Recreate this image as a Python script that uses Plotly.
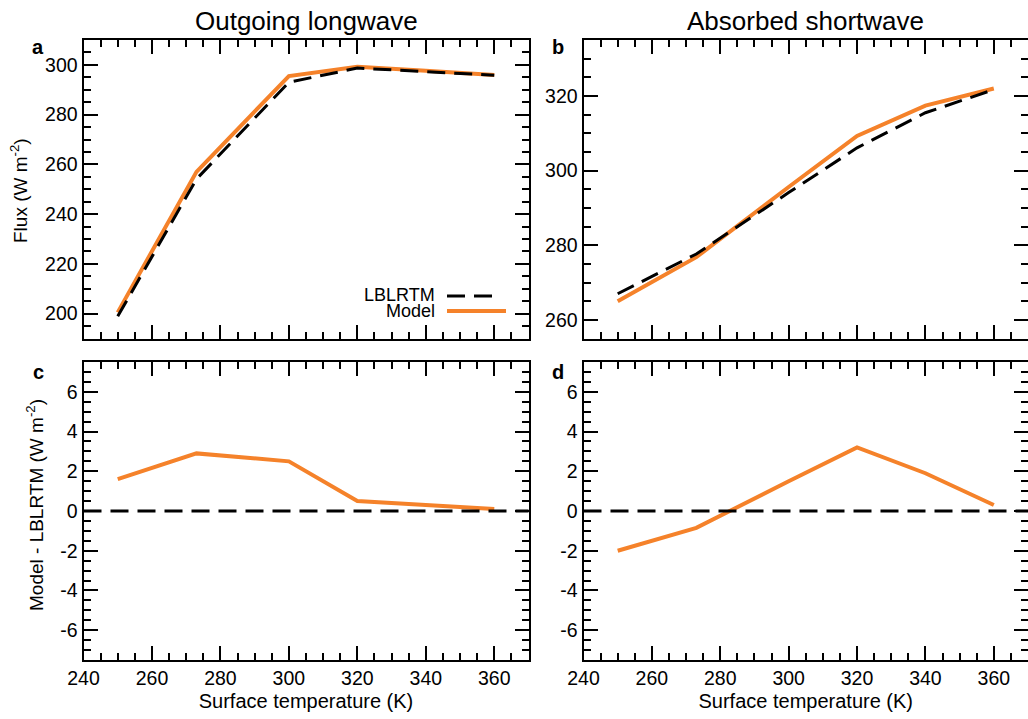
import plotly.graph_objects as go

# ---------------- data ----------------
temps = [250, 273, 300, 320, 340, 360]

olr_lblrtm = [198.9, 254.1, 293.0, 298.7, 297.3, 295.8]
olr_model = [200.5, 257.0, 295.5, 299.2, 297.6, 295.9]

asr_lblrtm = [267.0, 277.65, 294.1, 306.1, 315.5, 321.7]
asr_model = [265.0, 276.8, 295.6, 309.3, 317.4, 322.0]

olr_diff = [m - l for m, l in zip(olr_model, olr_lblrtm)]
asr_diff = [m - l for m, l in zip(asr_model, asr_lblrtm)]

x_ticks = [240, 260, 280, 300, 320, 340, 360]
diff_ticks = [-6, -4, -2, 0, 2, 4, 6]

# ---------------- style ----------------
W, H = 1028, 719
FONT = "Liberation Sans, Arial, Helvetica, sans-serif"
ORANGE = "#F5822A"
DASH = "18px,9px"


def px(x):
    return x / W


def py(y):
    return 1 - y / H


fig = go.Figure()

panels = [
    ("x", "y", olr_model, olr_lblrtm),
    ("x2", "y2", asr_model, asr_lblrtm),
]
for xa, ya, m, l in panels:
    fig.add_trace(go.Scatter(x=temps, y=m, mode="lines", xaxis=xa, yaxis=ya,
                             line=dict(color=ORANGE, width=4), showlegend=False))
    fig.add_trace(go.Scatter(x=temps, y=l, mode="lines", xaxis=xa, yaxis=ya,
                             line=dict(color="black", width=3, dash=DASH), showlegend=False))

for xa, ya, d in [("x3", "y3", olr_diff), ("x4", "y4", asr_diff)]:
    fig.add_trace(go.Scatter(x=temps, y=d, mode="lines", xaxis=xa, yaxis=ya,
                             line=dict(color=ORANGE, width=4), showlegend=False))

# zero lines in the difference panels
for xr, yr in [("x3", "y3"), ("x4", "y4")]:
    fig.add_shape(type="line", xref=f"{xr} domain", yref=yr, x0=0, x1=1, y0=0, y1=0,
                  line=dict(color="black", width=3, dash=DASH), layer="above")

common = dict(showline=True, linecolor="black", linewidth=2, mirror="allticks",
              ticks="inside", ticklen=14, tickwidth=2, tickcolor="black",
              showgrid=False, zeroline=False, automargin=False,
              tickfont=dict(family=FONT, size=19.5, color="black"))

LX = [px(83.5), px(528.5)]
RX = [px(583.5), 1.0]
TY = [py(338.5), py(40)]
BY = [py(660), py(362)]

xcommon = dict(common, range=[240, 370], tickmode="array", tickvals=x_ticks,
               ticktext=[str(t) for t in x_ticks],
               minor=dict(ticks="inside", ticklen=7, tickwidth=2, dtick=5, tick0=240,
                          tickcolor="black"))

dcommon = dict(common, range=[-7.5, 7.5], tickmode="array", tickvals=diff_ticks,
               ticktext=[str(t) for t in diff_ticks],
               minor=dict(ticks="inside", ticklen=7, tickwidth=2, dtick=0.5, tick0=0,
                          tickcolor="black"))

fig.update_layout(
    xaxis=dict(xcommon, domain=LX, anchor="y", showticklabels=False),
    xaxis2=dict(xcommon, domain=RX, anchor="y2", showticklabels=False),
    xaxis3=dict(xcommon, domain=LX, anchor="y3",
                title=dict(text="Surface temperature (K)", standoff=6,
                           font=dict(family=FONT, size=20, color="black"))),
    xaxis4=dict(xcommon, domain=RX, anchor="y4",
                title=dict(text="Surface temperature (K)", standoff=6,
                           font=dict(family=FONT, size=20, color="black"))),
    yaxis=dict(common, domain=TY, anchor="x", range=[190, 310], dtick=20, tick0=0,
               minor=dict(ticks="inside", ticklen=7, tickwidth=2, dtick=5, tick0=0,
                          tickcolor="black")),
    yaxis2=dict(common, domain=TY, anchor="x2", range=[255, 335], dtick=20, tick0=0,
                minor=dict(ticks="inside", ticklen=7, tickwidth=2, dtick=5, tick0=0,
                           tickcolor="black")),
    yaxis3=dict(dcommon, domain=BY, anchor="x3"),
    yaxis4=dict(dcommon, domain=BY, anchor="x4"),
    width=W, height=H,
    margin=dict(l=0, r=0, t=0, b=0, pad=0),
    paper_bgcolor="white", plot_bgcolor="white",
    font=dict(family=FONT, color="black"),
    showlegend=False,
)

ann = []
# column titles
ann.append(dict(text="Outgoing longwave", x=(LX[0] + LX[1]) / 2, y=py(21), xref="paper",
                yref="paper", showarrow=False, font=dict(size=26, family=FONT),
                xanchor="center", yanchor="middle"))
ann.append(dict(text="Absorbed shortwave", x=(RX[0] + 1.0) / 2, y=py(21), xref="paper",
                yref="paper", showarrow=False, font=dict(size=26, family=FONT),
                xanchor="center", yanchor="middle"))
# panel letters
for letter, xx, yy in [("a", 38, 47), ("b", 558, 47), ("c", 38, 372), ("d", 558, 372)]:
    ann.append(dict(text=f"<b>{letter}</b>", x=px(xx), y=py(yy), xref="paper", yref="paper",
                    showarrow=False, font=dict(size=20, family=FONT),
                    xanchor="center", yanchor="middle"))
# y titles
ann.append(dict(text="Flux (W m<sup>-2</sup>)", x=px(19), y=py(191), xref="paper",
                yref="paper", showarrow=False, textangle=-90,
                font=dict(size=19, family=FONT), xanchor="center", yanchor="middle"))
ann.append(dict(text="Model - LBLRTM (W m<sup>-2</sup>)", x=px(35), y=py(505), xref="paper",
                yref="paper", showarrow=False, textangle=-90,
                font=dict(size=19, family=FONT), xanchor="center", yanchor="middle"))
# legend text
ann.append(dict(text="LBLRTM", x=px(437), y=py(295), xref="paper", yref="paper",
                showarrow=False, font=dict(size=18, family=FONT),
                xanchor="right", yanchor="middle"))
ann.append(dict(text="Model", x=px(437), y=py(311), xref="paper", yref="paper",
                showarrow=False, font=dict(size=18, family=FONT),
                xanchor="right", yanchor="middle"))
fig.update_layout(annotations=ann)

# legend samples
fig.add_shape(type="line", xref="paper", yref="paper", x0=px(447), x1=px(497),
              y0=py(296), y1=py(296), line=dict(color="black", width=3, dash=DASH))
fig.add_shape(type="line", xref="paper", yref="paper", x0=px(447), x1=px(506),
              y0=py(311), y1=py(311), line=dict(color=ORANGE, width=4))

fig.write_html(
    "out.html",
    config={"displayModeBar": False},
    post_script="document.body.style.margin='0px';document.body.style.overflow='hidden';",
)
